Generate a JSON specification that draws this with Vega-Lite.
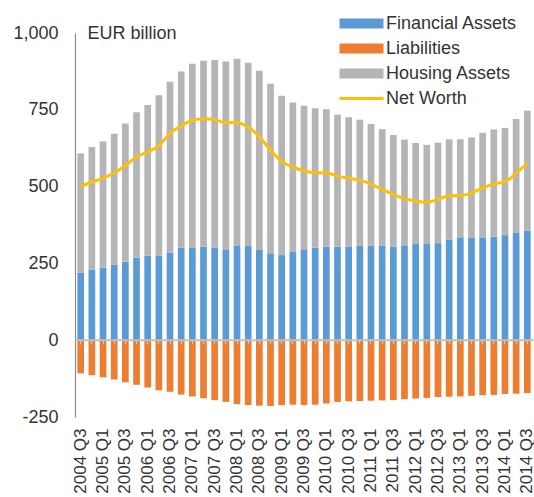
{
  "$schema": "https://vega.github.io/schema/vega-lite/v6.json",
  "width": 458,
  "height": 384,
  "autosize": {"type": "none"},
  "padding": {"left": 75, "top": 33, "right": 1, "bottom": 80},
  "background": "white",
  "config": {
    "view": {"stroke": null},
    "font": "Liberation Sans",
    "axis": {"labelFont": "Liberation Sans", "labelFontSize": 18, "labelColor": "#333333", "grid": false},
    "legend": {"labelFont": "Liberation Sans", "labelFontSize": 18, "labelColor": "#333333"}
  },
  "data": {
    "values": [
      {"q": "2004 Q3", "Financial Assets": 219, "Housing Assets": 389, "Liabilities": -108, "Net Worth": 501},
      {"q": "2004 Q4", "Financial Assets": 229, "Housing Assets": 400, "Liabilities": -114, "Net Worth": 515},
      {"q": "2005 Q1", "Financial Assets": 236, "Housing Assets": 411, "Liabilities": -121, "Net Worth": 527},
      {"q": "2005 Q2", "Financial Assets": 246, "Housing Assets": 426, "Liabilities": -128, "Net Worth": 545},
      {"q": "2005 Q3", "Financial Assets": 255, "Housing Assets": 450, "Liabilities": -137, "Net Worth": 568},
      {"q": "2005 Q4", "Financial Assets": 268, "Housing Assets": 474, "Liabilities": -145, "Net Worth": 597},
      {"q": "2006 Q1", "Financial Assets": 275, "Housing Assets": 491, "Liabilities": -154, "Net Worth": 613},
      {"q": "2006 Q2", "Financial Assets": 275, "Housing Assets": 522, "Liabilities": -163, "Net Worth": 633},
      {"q": "2006 Q3", "Financial Assets": 285, "Housing Assets": 556, "Liabilities": -168, "Net Worth": 673},
      {"q": "2006 Q4", "Financial Assets": 301, "Housing Assets": 574, "Liabilities": -177, "Net Worth": 698},
      {"q": "2007 Q1", "Financial Assets": 301, "Housing Assets": 599, "Liabilities": -183, "Net Worth": 716},
      {"q": "2007 Q2", "Financial Assets": 304, "Housing Assets": 606, "Liabilities": -189, "Net Worth": 721},
      {"q": "2007 Q3", "Financial Assets": 301, "Housing Assets": 611, "Liabilities": -195, "Net Worth": 718},
      {"q": "2007 Q4", "Financial Assets": 294, "Housing Assets": 613, "Liabilities": -201, "Net Worth": 708},
      {"q": "2008 Q1", "Financial Assets": 307, "Housing Assets": 609, "Liabilities": -208, "Net Worth": 709},
      {"q": "2008 Q2", "Financial Assets": 307, "Housing Assets": 596, "Liabilities": -211, "Net Worth": 693},
      {"q": "2008 Q3", "Financial Assets": 294, "Housing Assets": 583, "Liabilities": -213, "Net Worth": 663},
      {"q": "2008 Q4", "Financial Assets": 283, "Housing Assets": 552, "Liabilities": -214, "Net Worth": 618},
      {"q": "2009 Q1", "Financial Assets": 277, "Housing Assets": 519, "Liabilities": -211, "Net Worth": 582},
      {"q": "2009 Q2", "Financial Assets": 287, "Housing Assets": 487, "Liabilities": -210, "Net Worth": 563},
      {"q": "2009 Q3", "Financial Assets": 294, "Housing Assets": 469, "Liabilities": -211, "Net Worth": 552},
      {"q": "2009 Q4", "Financial Assets": 301, "Housing Assets": 454, "Liabilities": -210, "Net Worth": 545},
      {"q": "2010 Q1", "Financial Assets": 305, "Housing Assets": 447, "Liabilities": -206, "Net Worth": 545},
      {"q": "2010 Q2", "Financial Assets": 304, "Housing Assets": 430, "Liabilities": -201, "Net Worth": 534},
      {"q": "2010 Q3", "Financial Assets": 305, "Housing Assets": 421, "Liabilities": -199, "Net Worth": 527},
      {"q": "2010 Q4", "Financial Assets": 307, "Housing Assets": 411, "Liabilities": -198, "Net Worth": 521},
      {"q": "2011 Q1", "Financial Assets": 308, "Housing Assets": 396, "Liabilities": -197, "Net Worth": 508},
      {"q": "2011 Q2", "Financial Assets": 308, "Housing Assets": 379, "Liabilities": -196, "Net Worth": 491},
      {"q": "2011 Q3", "Financial Assets": 305, "Housing Assets": 363, "Liabilities": -195, "Net Worth": 474},
      {"q": "2011 Q4", "Financial Assets": 309, "Housing Assets": 344, "Liabilities": -192, "Net Worth": 461},
      {"q": "2012 Q1", "Financial Assets": 313, "Housing Assets": 329, "Liabilities": -190, "Net Worth": 453},
      {"q": "2012 Q2", "Financial Assets": 313, "Housing Assets": 323, "Liabilities": -188, "Net Worth": 449},
      {"q": "2012 Q3", "Financial Assets": 316, "Housing Assets": 327, "Liabilities": -185, "Net Worth": 458},
      {"q": "2012 Q4", "Financial Assets": 328, "Housing Assets": 326, "Liabilities": -184, "Net Worth": 470},
      {"q": "2013 Q1", "Financial Assets": 335, "Housing Assets": 319, "Liabilities": -183, "Net Worth": 471},
      {"q": "2013 Q2", "Financial Assets": 333, "Housing Assets": 327, "Liabilities": -181, "Net Worth": 479},
      {"q": "2013 Q3", "Financial Assets": 335, "Housing Assets": 340, "Liabilities": -179, "Net Worth": 496},
      {"q": "2013 Q4", "Financial Assets": 337, "Housing Assets": 349, "Liabilities": -178, "Net Worth": 509},
      {"q": "2014 Q1", "Financial Assets": 342, "Housing Assets": 349, "Liabilities": -175, "Net Worth": 516},
      {"q": "2014 Q2", "Financial Assets": 349, "Housing Assets": 371, "Liabilities": -174, "Net Worth": 544},
      {"q": "2014 Q3", "Financial Assets": 356, "Housing Assets": 391, "Liabilities": -172, "Net Worth": 576}
    ]
  },
  "resolve": {"axis": {"x": "independent"}},
  "layer": [
    {
      "transform": [{"fold": ["Financial Assets", "Liabilities", "Housing Assets"], "as": ["series", "value"]}],
      "mark": {"type": "bar"},
      "encoding": {
        "x": {
          "field": "q", "type": "nominal", "sort": null,
          "scale": {"paddingInner": 0.4, "paddingOuter": 0.21},
          "axis": {
            "title": null, "domain": false, "ticks": false, "labelAngle": -90, "labelPadding": 11,
            "labelFontSize": 17,
            "values": ["2004 Q3","2005 Q1","2005 Q3","2006 Q1","2006 Q3","2007 Q1","2007 Q3","2008 Q1","2008 Q3","2009 Q1","2009 Q3","2010 Q1","2010 Q3","2011 Q1","2011 Q3","2012 Q1","2012 Q3","2013 Q1","2013 Q3","2014 Q1","2014 Q3"]
          }
        },
        "y": {
          "field": "value", "type": "quantitative", "stack": "zero",
          "scale": {"domain": [-250, 1000], "nice": false, "zero": false},
          "axis": {
            "values": [-250, 0, 250, 500, 750, 1000],
            "labelExpr": "datum.value < 0 ? '-' + format(-datum.value, ',') : format(datum.value, ',')",
            "ticks": false, "labelPadding": 17, "domainColor": "#8c8c8c", "domainWidth": 1.2,
            "title": "EUR billion", "titleAngle": 0, "titleX": 12, "titleY": 0, "titleAlign": "left",
            "titleBaseline": "middle", "titleFont": "Liberation Sans", "titleFontSize": 18,
            "titleFontWeight": "normal", "titleColor": "#333333"
          }
        },
        "color": {
          "field": "series", "type": "nominal",
          "scale": {
            "domain": ["Financial Assets", "Liabilities", "Housing Assets", "Net Worth"],
            "range": ["#5b9bd5", "#ed7d31", "#b5b5b8", "#ffc000"]
          },
          "legend": {
            "title": null, "orient": "none", "legendX": 277.5, "legendY": -18.5,
            "padding": 0, "symbolSize": 121, "labelOffset": 15.5, "rowPadding": 7,
            "symbolType": "square",
            "encode": {
              "symbols": {
                "update": {
                  "shape": {"signal": "datum.value === 'Net Worth' ? 'M-4,-0.28H4V0.28H-4Z' : 'M-4,-0.9H4V0.9H-4Z'"},
                  "fill": {"scale": "color", "field": "value"},
                  "fillOpacity": {"value": 1},
                  "opacity": {"value": 1},
                  "strokeWidth": {"value": 0}
                }
              }
            }
          }
        },
        "order": {"field": "series", "sort": "ascending"}
      }
    },
    {
      "mark": {"type": "line", "strokeWidth": 3, "interpolate": "monotone"},
      "encoding": {
        "x": {
          "field": "q", "type": "nominal", "sort": null,
          "axis": {
            "title": null, "labels": false, "orient": "bottom", "offset": -77.2,
            "domain": true, "domainColor": "#c0c0c0", "domainWidth": 2,
            "ticks": true, "tickSize": 4, "tickColor": "#d0d0d0", "tickWidth": 1, "zindex": 1
          }
        },
        "y": {"field": "Net Worth", "type": "quantitative"},
        "color": {"datum": "Net Worth"}
      }
    }
  ]
}
